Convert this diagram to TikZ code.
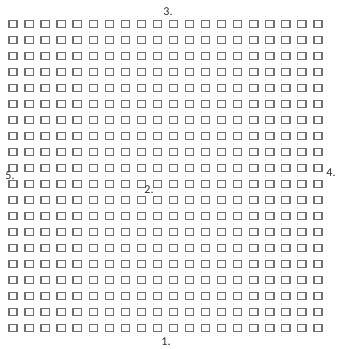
\documentclass[tikz,border=0pt]{standalone}
\usepackage{fontspec}
\setmainfont{Carlito}
\usetikzlibrary{positioning}
\definecolor{ink}{HTML}{2B2B2B}
\definecolor{cellgray}{HTML}{707070}

\begin{document}
\begin{tikzpicture}[x=1pt,y=-1pt,
  cell/.style={draw=cellgray,line width=1.3pt},
  lab/.style={text=ink,font=\fontsize{12}{13}\selectfont,inner sep=0pt}]
\useasboundingbox (0,0) rectangle (337,349);
% 20 x 20 grid of cells
\foreach \i in {0,...,19}
  \foreach \j in {0,...,19}
    \draw[cell] ({13+16.05*\i-4.1},{24+16*\j-3.7}) rectangle ++(8.2,7.4);
\node[lab] (lab3) at (168,12) {3.};
\node[lab] (lab1) at (166,341.5) {1.};
\node[lab] (lab2) at (149,190) {2.};
\node[lab] (lab5) at (10,176) {5.};
\node[lab] (lab4) at (331,173) {4.};
\end{tikzpicture}
\end{document}
